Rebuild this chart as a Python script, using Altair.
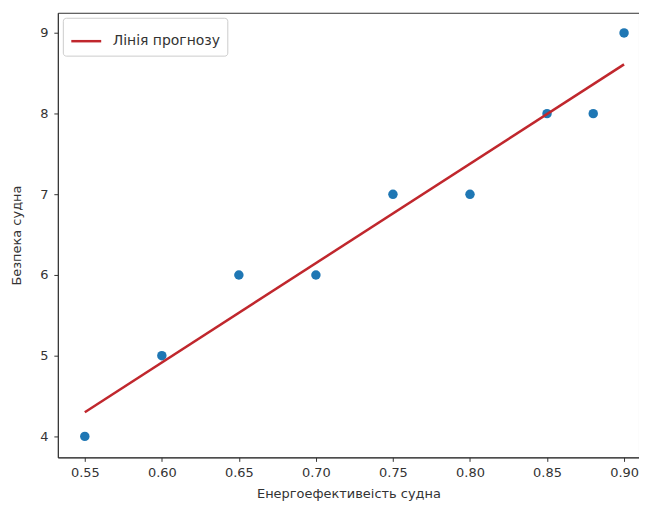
import altair as alt
import pandas as pd

energy_eff = [0.55, 0.60, 0.65, 0.70, 0.75, 0.80, 0.85, 0.88, 0.90]
safety = [4, 5, 6, 6, 7, 7, 8, 8, 9]
line_x = [0.55, 0.90]
line_y = [4.30, 8.61]
x_ticks = [0.55, 0.60, 0.65, 0.70, 0.75, 0.80, 0.85, 0.90]
y_ticks = [4, 5, 6, 7, 8, 9]
legend_label = "Лінія прогнозу"

pts = pd.DataFrame({"x": energy_eff, "y": safety})
ln = pd.DataFrame({"x": line_x, "y": line_y, "s": [legend_label] * len(line_x)})

FONT = "DejaVu Sans"
xscale = alt.Scale(domain=[0.5325, 0.9097], nice=False, zero=False)
yscale = alt.Scale(domain=[3.74, 9.25], nice=False, zero=False)

xaxis = alt.Axis(values=x_ticks, format=".2f", title="Енергоефективеість судна", grid=False,
                 tickColor="#333", domainColor="#333", labelColor="#333", titleColor="#333",
                 labelFontSize=13, titleFontSize=13, titleFontWeight="normal", labelFont=FONT,
                 titleFont=FONT, tickSize=4, labelPadding=5, titlePadding=8)
yaxis = alt.Axis(values=y_ticks, format="d", title="Безпека судна", grid=False,
                 tickColor="#333", domainColor="#333", labelColor="#333", titleColor="#333",
                 labelFontSize=13, titleFontSize=13, titleFontWeight="normal", labelFont=FONT,
                 titleFont=FONT, tickSize=4, labelPadding=6, titlePadding=16)

points = alt.Chart(pts).mark_circle(size=90, opacity=1, color="#1f77b4").encode(
    x=alt.X("x:Q", scale=xscale, axis=xaxis),
    y=alt.Y("y:Q", scale=yscale, axis=yaxis),
)

line = alt.Chart(ln).mark_line(strokeWidth=2.5).encode(
    x=alt.X("x:Q", scale=xscale),
    y=alt.Y("y:Q", scale=yscale),
    color=alt.Color("s:N", scale=alt.Scale(domain=[legend_label], range=["#c0272d"]),
                    legend=alt.Legend(title=None, orient="top-left", offset=5,
                                      symbolType="stroke", symbolSize=900, symbolStrokeWidth=2.5,
                                      labelFontSize=14, labelFont=FONT, labelColor="#333",
                                      labelOffset=10, padding=7, strokeColor="#cccccc",
                                      cornerRadius=3, fillColor="white")),
)

chart = alt.layer(points, line).properties(
    width=583, height=446,
    autosize=alt.AutoSizeParams(type="none"),
    padding={"left": 50, "top": 4, "right": 0, "bottom": 48},
).configure_view(stroke="#333", strokeWidth=1)

chart.save("out.html", embed_options={"renderer": "svg", "actions": False})
